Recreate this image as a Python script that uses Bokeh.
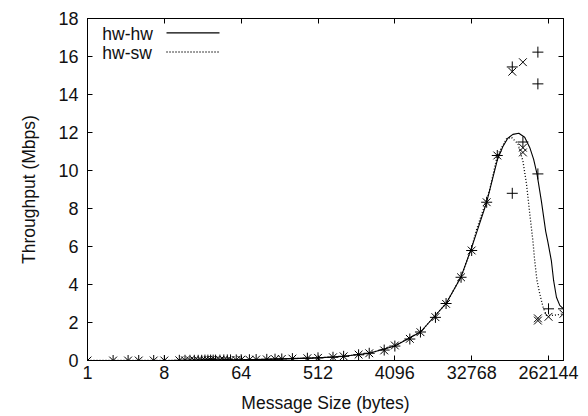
from bokeh.plotting import figure
from bokeh.models import FixedTicker, LinearAxis, LogAxis, Range1d, LinearScale, ColumnDataSource
from bokeh.core.properties import value
from bokeh.embed import file_html
from bokeh.resources import INLINE

FONT = "Liberation Sans"
FS_TICK = "18px"
FS_LAB = "17.5px"

# ---------------- data ----------------
x_ticks = [1, 8, 64, 512, 4096, 32768, 262144]
x_tick_labels = ["1", "8", "64", "512", "4096", "32768", "262144"]
y_ticks = [0, 2, 4, 6, 8, 10, 12, 14, 16, 18]

# measured points, hw-hw ("+")
hw_hw_sizes = [1, 2, 3, 4, 6, 8, 12, 14, 16, 18, 20, 22, 24, 26, 28, 30, 32,
               36, 40, 44, 48, 56, 64, 80, 96, 128, 160, 192, 256, 384,
               512, 768, 1024, 1536, 2048, 3072, 4096, 6144, 8192, 12288,
               16384, 24576, 32768, 49152, 65536,
               98304, 98304, 131072, 196608, 196608, 196608, 262144, 393216]
hw_hw_tput = [0.0, 0.0, 0.0, 0.0, 0.0, 0.0, 0.01, 0.01, 0.01, 0.01, 0.01, 0.01, 0.02, 0.02, 0.02, 0.02, 0.02,
              0.02, 0.03, 0.03, 0.03, 0.03, 0.04, 0.04, 0.05, 0.06, 0.07, 0.08, 0.10, 0.12,
              0.14, 0.17, 0.22, 0.30, 0.38, 0.55, 0.76, 1.13, 1.50, 2.27,
              3.00, 4.38, 5.79, 8.33, 10.79,
              15.45, 8.80, 11.50, 16.23, 14.56, 9.82, 2.72, 2.72]

# measured points, hw-sw ("x")
hw_sw_sizes = [1, 2, 3, 4, 6, 8, 12, 14, 16, 18, 20, 22, 24, 26, 28, 30, 32,
               36, 40, 44, 48, 56, 64, 80, 96, 128, 160, 192, 256, 384,
               512, 768, 1024, 1536, 2048, 3072, 4096, 6144, 8192, 12288,
               16384, 24576, 32768, 49152, 65536,
               98304, 131072, 131072, 131072, 196608, 196608, 262144, 393216]
hw_sw_tput = [0.0, 0.0, 0.0, 0.0, 0.0, 0.0, 0.01, 0.01, 0.01, 0.01, 0.01, 0.01, 0.02, 0.02, 0.02, 0.02, 0.02,
              0.02, 0.03, 0.03, 0.03, 0.03, 0.04, 0.04, 0.05, 0.06, 0.07, 0.08, 0.10, 0.12,
              0.14, 0.17, 0.22, 0.31, 0.38, 0.53, 0.79, 1.14, 1.49, 2.28,
              2.98, 4.38, 5.79, 8.33, 10.79,
              15.20, 15.70, 11.20, 10.95, 2.10, 2.22, 2.30, 2.46]

# smoothed curves
hw_hw_curve_sizes = [1, 8, 64, 512, 1024, 2048, 4096, 8192, 16384, 24576, 32768,
                     49152, 65536, 76000, 87080, 100000, 117300, 137600, 158000,
                     175000, 191900, 215900, 242900, 258500, 282900, 301100,
                     325000, 355600, 393216]
hw_hw_curve_tput = [0.0, 0.0, 0.03, 0.14, 0.22, 0.38, 0.76, 1.50, 3.00, 4.40, 5.95,
                    8.33, 10.55, 11.25, 11.70, 11.90, 11.96, 11.75, 11.20,
                    10.60, 9.82, 8.40, 6.80, 6.20, 5.26, 4.20,
                    3.33, 2.90, 2.72]

hw_sw_curve_sizes = [1, 8, 64, 512, 1024, 2048, 4096, 8192, 16384, 24576, 32768,
                     37100, 53200, 65536, 84100, 95950, 114900, 131072, 144400,
                     158000, 171800, 180300, 191900, 207100, 226600, 248000,
                     297000, 393216]
hw_sw_curve_tput = [0.0, 0.0, 0.03, 0.14, 0.22, 0.38, 0.78, 1.50, 3.00, 4.40, 5.95,
                    6.84, 8.95, 10.79, 11.67, 11.75, 11.40, 10.50, 9.30,
                    7.70, 6.30, 5.26, 4.20, 3.50, 2.80, 2.37,
                    2.37, 2.46]

series_names = ["hw-hw", "hw-sw"]

# ---------------- figure ----------------
p = figure(width=588, height=416, x_axis_type="log",
           x_range=Range1d(1, 393216), y_range=Range1d(0, 18),
           output_backend="svg", toolbar_location=None,
           min_border_left=87, min_border_right=25,
           min_border_top=18, min_border_bottom=56)
p.background_fill_color = "white"
p.border_fill_color = "white"
p.outline_line_color = "black"
p.outline_line_width = 1
p.xgrid.visible = False
p.ygrid.visible = False

def style_axis(ax, labels=True):
    ax.major_tick_in = 5
    ax.major_tick_out = 0
    ax.minor_tick_line_color = None
    ax.axis_line_color = "black"
    ax.major_tick_line_color = "black"
    ax.major_label_text_font = FONT
    ax.axis_label_text_font = FONT
    ax.axis_label_text_font_size = FS_LAB
    ax.axis_label_text_font_style = "normal"
    ax.axis_label_text_color = "#111111"
    if labels:
        ax.major_label_text_font_size = FS_TICK
        ax.major_label_text_color = "#111111"
    else:
        ax.major_label_text_font_size = "1px"
        ax.major_label_text_color = None
        ax.major_label_standoff = 0

xt = FixedTicker(ticks=x_ticks, minor_ticks=[])
yt = FixedTicker(ticks=y_ticks, minor_ticks=[])

p.xaxis.ticker = xt
p.xaxis.major_label_overrides = {t: s for t, s in zip(x_ticks, x_tick_labels)}
p.xaxis.axis_label = "Message Size (bytes)"
p.xaxis.major_label_standoff = 5
p.xaxis.axis_label_standoff = 11
p.yaxis.ticker = yt
p.yaxis.axis_label = "Throughput (Mbps)"
p.yaxis.major_label_standoff = 9
p.yaxis.axis_label_standoff = 16
style_axis(p.xaxis[0])
style_axis(p.yaxis[0])

top = LogAxis(ticker=xt)
style_axis(top, labels=False)
p.add_layout(top, "above")
right = LinearAxis(ticker=yt)
style_axis(right, labels=False)
p.add_layout(right, "right")

# curves
p.line(hw_hw_curve_sizes, hw_hw_curve_tput, line_color="black", line_width=1.1)
p.line(hw_sw_curve_sizes, hw_sw_curve_tput, line_color="black", line_width=1.3, line_dash="1 2")

# points
p.scatter(hw_hw_sizes, hw_hw_tput, marker="cross", size=11, line_color="black", line_width=1)
p.scatter(hw_sw_sizes, hw_sw_tput, marker="x", size=11, line_color="black", line_width=1)

# legend (gnuplot style: label, then line sample), in frame-fraction coordinates
p.extra_x_ranges = {"fx": Range1d(0, 1)}
p.extra_y_ranges = {"fy": Range1d(0, 1)}
p.extra_x_scales = {"fx": LinearScale()}
p.extra_y_scales = {"fy": LinearScale()}
leg = ColumnDataSource(dict(x=[0.031, 0.031], y=[0.956, 0.900], t=series_names))
p.text(x="x", y="y", text="t", source=leg, x_range_name="fx", y_range_name="fy",
       text_font=value(FONT), text_font_size=FS_LAB, text_baseline="middle",
       text_align="left", text_color="#111111")
p.line([0.166, 0.2773], [0.958, 0.958], x_range_name="fx", y_range_name="fy",
       line_color="black", line_width=1.1)
p.line([0.166, 0.2773], [0.902, 0.902], x_range_name="fx", y_range_name="fy",
       line_color="black", line_width=1.3, line_dash="1 2")

open("out.html", "w").write(file_html(p, INLINE))
